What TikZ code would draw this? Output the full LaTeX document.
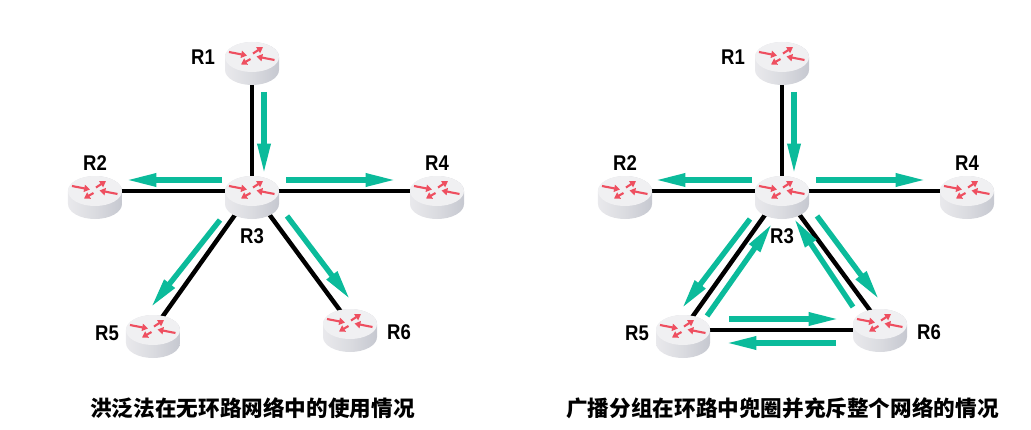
\documentclass[tikz,border=0pt]{standalone}
\usepackage{fontspec}
\usepackage{tikz}
\usetikzlibrary{arrows.meta,positioning,backgrounds}
\setmainfont{Liberation Sans}
\newfontfamily\cjk{Noto Sans CJK SC}
\definecolor{flowgreen}{HTML}{0BBB9B}
\definecolor{routerred}{HTML}{EE4F60}
\definecolor{bodylight}{HTML}{E9E9EC}
\definecolor{bodymid}{HTML}{DADBE0}
\definecolor{bodydark}{HTML}{C6C8D0}
\definecolor{topface}{HTML}{F0F0F2}
% cylinder body, top face and the four small arrows
\newcommand{\routericon}{
    \begin{scope}[shift={(path picture bounding box.center)}]
        \shade[left color=bodylight, right color=bodydark, middle color=bodymid]
            (-27,0) -- (-27,13) arc[start angle=180, end angle=360, x radius=.81cm, y radius=.45cm]
            -- (27,0) arc[start angle=0, end angle=180, x radius=.81cm, y radius=.45cm] -- cycle;
        \fill[topface] (0,0) ellipse [x radius=.81cm, y radius=.45cm];
        \draw[routerarrow] (-23,-5) -- (-5,-1.5);
        \draw[routerarrow] (1,-3.5) -- (11,-10);
        \draw[routerarrow] (-1.5,2) -- (-11,7.5);
        \draw[routerarrow] (22.5,3) -- (4.5,-0.5);
    \end{scope}
}
\newcommand{\rname}[1]{\scalebox{.87}[1]{#1}}
\tikzstyle{routerarrow}=[
    routerred,
    line width=1.8pt,
    -{Triangle[length=5pt,width=6pt]}
]
\tikzstyle{router}=[
    inner sep=0pt,
    minimum width=1.7cm,
    minimum height=1.76cm,
    path picture={\routericon}
]
\tikzstyle{rlabel}=[
    inner sep=0pt,
    font=\fontsize{18.2}{20}\selectfont\bfseries
]
\tikzstyle{caption}=[
    inner sep=0pt,
    font=\cjk\fontsize{18.45}{22}\selectfont\bfseries
]
\tikzstyle{link}=[
    -,
    draw=black,
    line width=3.8pt
]
\tikzstyle{flow}=[
    draw=flowgreen,
    line width=4.6pt,
    shorten >=-1.7pt,
    -{Triangle[length=26pt,width=10.5pt]}
]

\begin{document}
\begin{tikzpicture}[x=0.03cm,y=-0.03cm,on grid]
\useasboundingbox (0,0) rectangle (1031,430);

\foreach \p/\x/\txt in {a/252/洪泛法在无环路网络中的使用情况,b/782/广播分组在环路中兜圈并充斥整个网络的情况} {
    \node[router] (\p1) at (\x,57) {};
    \node[router, below=4.02cm of \p1] (\p3) {};
    \node[router, left=4.71cm of \p3] (\p2) {};
    \node[router, right=5.55cm of \p3] (\p4) {};
    \node[router, below left=4.17cm and 2.97cm of \p3] (\p5) {};
    \node[router, below right=3.99cm and 2.94cm of \p3] (\p6) {};

    \node[rlabel, left=1.47cm of \p1] (\p1l) {\rname{R1}};
    \node[rlabel, above=.84cm of \p2] (\p2l) {\rname{R2}};
    \node[rlabel, below=1.35cm of \p3] (\p3l) {\rname{R3}};
    \node[rlabel, above=.84cm of \p4] (\p4l) {\rname{R4}};
    \node[rlabel, below left=.09cm and 1.38cm of \p5] (\p5l) {\rname{R5}};
    \node[rlabel, below right=.24cm and 1.47cm of \p6] (\p6l) {\rname{R6}};

    \node[caption] (\p cap) at (\x+.5,408) {\txt};

    \begin{scope}[on background layer]
        \draw[link] (\p1.center) to (\p3.center);
        \draw[link] (\p2.center) to (\p3.center);
        \draw[link] (\p3.center) to (\p4.center);
        \draw[link] (\p3.center) to (\p5.center);
        \draw[link] (\p3.center) to (\p6.center);
    \end{scope}
}

% the ring between R5 and R6 only exists on the right
\begin{scope}[on background layer]
    \draw[link] (b5.center) to (b5.center -| b6.center);
\end{scope}

% forwarded copies: tail and tip of each one
\foreach \n/\sx/\sy/\ex/\ey in {
    1/264/92/264/172, 2/222/180/128/180, 3/286/180/394/180,
    4/220/220/152/306, 5/287/216/349/298,
    6/794/92/794/172, 7/752/180/657/180, 8/816/180/924/180,
    9/750/219/683/307, 10/817/216/878/298,
    11/707/316/771/225, 12/853/307/795/220,
    13/729/319/837/319, 14/836/343/728/343} {
    \coordinate (f\n s) at (\sx,\sy);
    \coordinate (f\n e) at (\ex,\ey);
    \draw[flow] (f\n s) to (f\n e);
}
\end{tikzpicture}
\end{document}
